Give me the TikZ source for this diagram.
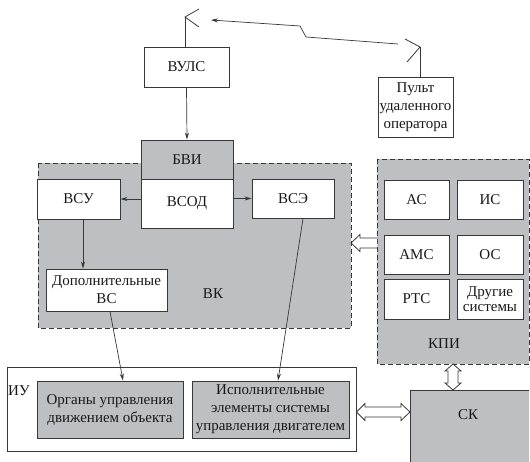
\documentclass[tikz,border=0pt]{standalone}
\usepackage{fontspec}
\setmainfont{Liberation Serif}
\usetikzlibrary{arrows.meta}
\definecolor{fillg}{RGB}{190,191,195}
\definecolor{linec}{RGB}{55,55,55}
\definecolor{txt}{RGB}{25,25,25}
\tikzset{
  box/.style={draw=linec, line width=0.9pt, fill=white, inner sep=0.5pt, align=center, text=txt,
    font=\fontsize{15}{18}\selectfont},
  gbox/.style={box, fill=fillg},
  region/.style={draw=linec, line width=0.9pt, fill=fillg, dash pattern=on 5pt off 3pt},
  lbl/.style={text=txt, font=\fontsize{15}{18}\selectfont, inner sep=0},
  conn/.style={draw=linec, line width=0.7pt, -{Stealth[length=7pt,width=4pt]}},
  plain/.style={draw=linec, line width=0.8pt},
  hollow/.style={draw=linec, line width=0.8pt, fill=white, line join=miter},
}
\begin{document}
\begin{tikzpicture}[x=1pt,y=-1pt]
\useasboundingbox (0,0) rectangle (530,462);

% regions
\path[region] (38,163) rectangle (351,328);
\coordinate (vkE) at (351,243);
\node[lbl] (vkl) at (213,294) {ВК};
\path[region] (377,159) rectangle (529,364);
\coordinate (kpiW) at (377,243);
\coordinate (kpiS) at (453,364);
\node[lbl] (kpil) at (444,344) {КПИ};

% top
\node[box, minimum width=85pt, minimum height=40pt] (vuls) at (186.5,67) {ВУЛС};
\node[box, minimum width=75pt, minimum height=60pt] (pult) at (415.5,107) {Пульт\\удаленного\\оператора};

% antennas
\coordinate (antL) at (185,17);
\coordinate (antR) at (420,47);
\draw[plain] (vuls.north -| antL) -- (antL);
\draw[plain] (199,9) -- (antL) -- (199,27);
\draw[plain] (pult.north -| antR) -- (antR);
\draw[plain] (405,39) -- (antR) -- (407,62);
\coordinate (z0) at (398,44);
\coordinate (z1) at (306,37);
\coordinate (z2) at (300,26);
\coordinate (z3) at (211,20);
\draw[conn] (z0) -- (z1) -- (z2) -- (z3);

% VK content
\node[gbox, minimum width=92pt, minimum height=39pt] (bvi) at (187,159.5) {БВИ};
\node[box, minimum width=92pt, minimum height=49pt] (vsod) at (187,203.5) {ВСОД};
\node[box, minimum width=83pt, minimum height=40pt] (vsu) at (78.5,199) {ВСУ};
\node[box, minimum width=82pt, minimum height=39pt] (vse) at (293,198.5) {ВСЭ};
\node[box, minimum width=121pt, minimum height=42pt] (dop) at (106.5,290) {Дополнительные\\ВС};

% KPI content
\node[box, minimum width=65pt, minimum height=39pt] (as) at (416.5,199.5) {АС};
\node[box, minimum width=66pt, minimum height=39pt] (is) at (490,199.5) {ИС};
\node[box, minimum width=65pt, minimum height=39pt] (ams) at (416.5,254.5) {АМС};
\node[box, minimum width=66pt, minimum height=39pt] (os) at (490,254.5) {ОС};
\node[box, minimum width=65pt, minimum height=40pt] (rts) at (416.5,299) {РТС};
\node[box, minimum width=66pt, minimum height=40pt, font=\fontsize{15}{15.5}\selectfont] (dr) at (490,299) {Другие\\системы};

% IU
\node[draw=linec, line width=0.9pt, fill=white, minimum width=349pt, minimum height=84pt, inner sep=0] (iu) at (181.5,409) {};
\node[lbl, anchor=west] (iul) at (8,391) {ИУ};
\node[gbox, minimum width=146pt, minimum height=57pt] (org) at (110,409.5) {Органы управления\\движением объекта};
\node[gbox, minimum width=157pt, minimum height=57pt] (isp) at (270.5,409.5) {Исполнительные\\элементы системы\\управления двигателем};

% SK
\path[draw=linec, line width=0.9pt, fill=fillg] (529,470) -- (410,470) -- (410,390) -- (529,390);
\coordinate (skW) at (410,412);
\coordinate (skN) at (453,390);
\node[lbl] (skl) at (468,415) {СК};

% connectors
\draw[conn] (vuls.south) -- (bvi.north);
\draw[conn] (vsod.west |- vsu.east) -- (vsu.east);
\draw[conn] (vsod.east |- vse.west) -- (vse.west);
\draw[conn] (vsu.south -| 83,0) -- (dop.north -| 83,0);
\draw[conn] (dop.south -| 110,0) -- (org.north -| 123,0);
\draw[conn] (vse.south -| 303,0) -- (isp.north -| 278,0);

% hollow arrows
\fill[white] (377,238) -- (360,238) -- (360,234.5) -- (351,243) -- (360,251.5) -- (360,248) -- (377,248) -- cycle;
\draw[hollow, fill=none] (kpiW |- 0,238) -- (360,238) -- (360,234.5) -- (vkE) -- (360,251.5) -- (360,248) -- (kpiW |- 0,248);
\draw[hollow] (iu.east |- skW) -- (365,403.5) -- (365,407) -- (401,407) -- (401,403.5) -- (skW) -- (401,420.5) -- (401,417) -- (365,417) -- (365,420.5) -- cycle;
\draw[hollow] (kpiS) -- (461,371) -- (458,371) -- (458,383) -- (461,383) -- (skN) -- (445,383) -- (448,383) -- (448,371) -- (445,371) -- cycle;
\end{tikzpicture}
\end{document}
